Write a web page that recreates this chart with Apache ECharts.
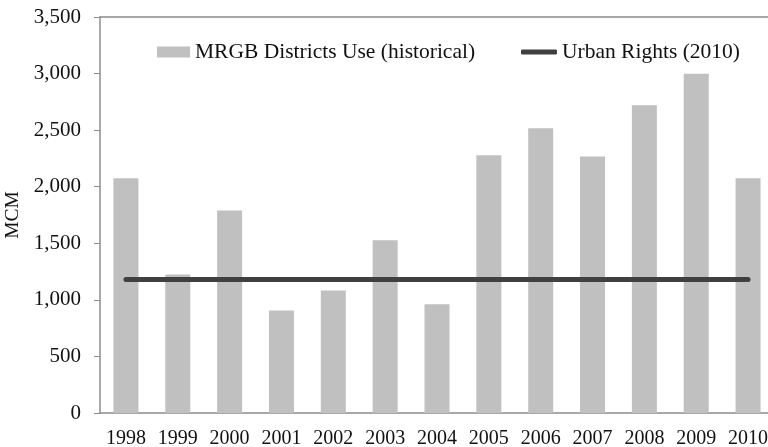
<!DOCTYPE html>
<html>
<head>
<meta charset="utf-8">
<script src="https://cdn.jsdelivr.net/npm/echarts@6/dist/echarts.min.js"></script>
<style>
  html, body { margin: 0; padding: 0; background: #fff; }
  #chart { width: 768px; height: 447px; }
</style>
</head>
<body>
<div id="chart"></div>
<script>
var years = ['1998', '1999', '2000', '2001', '2002', '2003', '2004', '2005', '2006', '2007', '2008', '2009', '2010'];
var districtUse = [2075, 1225, 1790, 905, 1083, 1526, 962, 2278, 2517, 2266, 2721, 2998, 2075];
var urbanRights = [1180, 1180, 1180, 1180, 1180, 1180, 1180, 1180, 1180, 1180, 1180, 1180, 1180];

var myChart = echarts.init(document.getElementById('chart'));
var font = '"Liberation Serif", "DejaVu Serif", serif';
var axisGray = '#8c8c8c';
var legendText = { fontFamily: font, fontSize: 21.5, color: '#111', lineHeight: 22 };

var option = {
    animation: false,
    textStyle: { fontFamily: font },
    grid: { left: 100, right: -6, top: 17, bottom: 34, outerBoundsMode: 'none', containLabel: false },
    legend: [{
        left: 152,
        top: 36,
        itemWidth: 33,
        itemHeight: 11,
        itemGap: 0,
        textStyle: legendText,
        data: [{ name: 'MRGB Districts Use (historical)', icon: 'rect' }]
    }, {
        left: 516,
        top: 36,
        itemWidth: 36,
        itemHeight: 5,
        textStyle: legendText,
        data: [{ name: 'Urban Rights (2010)', icon: 'roundRect' }]
    }],
    xAxis: [{
        type: 'category',
        data: years,
        axisLine: { lineStyle: { color: axisGray, width: 1.5 } },
        axisTick: { length: 6, lineStyle: { color: axisGray } },
        axisLabel: { color: '#111', fontSize: 20, fontFamily: font, margin: 16, interval: 0 }
    }, {
        type: 'category',
        data: years,
        position: 'top',
        axisLine: { lineStyle: { color: axisGray, width: 1.5 } },
        axisTick: { show: false },
        axisLabel: { show: false }
    }],
    yAxis: {
        type: 'value',
        min: 0,
        max: 3500,
        interval: 500,
        name: 'MCM',
        nameLocation: 'middle',
        nameGap: 71,
        nameTextStyle: { color: '#111', fontSize: 19.5, fontFamily: font },
        axisLine: { show: true, lineStyle: { color: axisGray, width: 1.5 } },
        axisTick: { show: true, length: 6, lineStyle: { color: axisGray } },
        splitLine: { show: false },
        axisLabel: {
            color: '#111', fontSize: 21, fontFamily: font, margin: 19,
            formatter: function (v) { return v.toLocaleString('en-US'); }
        }
    },
    series: [{
        name: 'MRGB Districts Use (historical)',
        type: 'bar',
        data: districtUse,
        barWidth: 25,
        itemStyle: { color: '#c0c0c0' }
    }, {
        name: 'Urban Rights (2010)',
        type: 'line',
        data: urbanRights,
        symbol: 'none',
        lineStyle: { color: '#404040', width: 5, cap: 'round' },
        itemStyle: { color: '#404040' }
    }]
};
myChart.setOption(option);
</script>
</body>
</html>
